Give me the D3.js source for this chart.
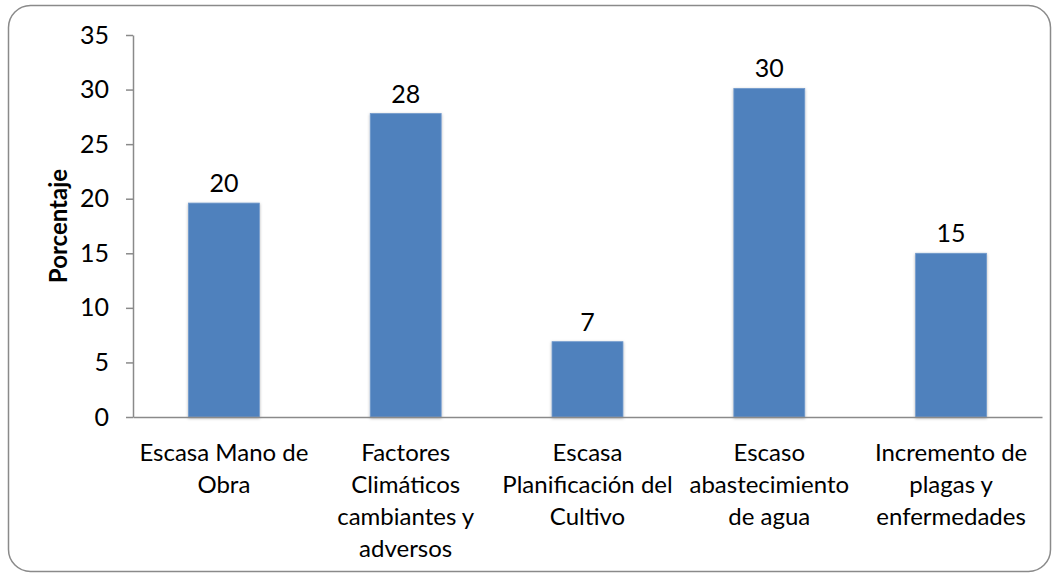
<!DOCTYPE html>
<html>
<head>
<meta charset="utf-8">
<script src="https://cdn.jsdelivr.net/npm/d3@7"></script>
<style>
  html, body { margin: 0; padding: 0; background: #fff; }
  svg { display: block; font-family: Lato, "Open Sans", sans-serif; }
</style>
</head>
<body>
<svg id="chart" width="1059" height="575"></svg>
<script>
const categories = [
  "Escasa Mano de|Obra",
  "Factores|Climáticos|cambiantes y|adversos",
  "Escasa|Planificación del|Cultivo",
  "Escaso|abastecimiento|de agua",
  "Incremento de|plagas y|enfermedades"
];
const values = [19.6, 27.8, 6.9, 30.1, 15.0];
const valueLabels = ["20", "28", "7", "30", "15"];
const yTicks = [0, 5, 10, 15, 20, 25, 30, 35];
const yTitle = "Porcentaje";

const svg = d3.select("#chart");
const FS = 24;

// outer rounded border
svg.append("rect")
  .attr("x", 8.5).attr("y", 5.5)
  .attr("width", 1042).attr("height", 566)
  .attr("rx", 22).attr("ry", 22)
  .attr("fill", "#fff")
  .attr("stroke", "#8a8a8a")
  .attr("stroke-width", 1.5);

const defs = svg.append("defs");
const f = defs.append("filter").attr("id", "shadow")
  .attr("x", "-20%").attr("y", "-10%").attr("width", "140%").attr("height", "120%");
f.append("feDropShadow").attr("dx", 0).attr("dy", 1).attr("stdDeviation", 1.8)
  .attr("flood-color", "#000").attr("flood-opacity", 0.3);

const mLeft = 133, mRight = 1042, mTop = 35, mBottom = 417;

const x = d3.scaleBand().domain(categories).range([mLeft, mRight]).paddingInner(0.61).paddingOuter(0.305);
const y = d3.scaleLinear().domain([0, 35]).range([mBottom, mTop]);

// bars
svg.append("g").selectAll("rect").data(values).join("rect")
  .attr("x", (d, i) => x(categories[i]))
  .attr("y", d => y(d))
  .attr("width", x.bandwidth())
  .attr("height", d => y(0) - y(d))
  .attr("fill", "#4F81BD")
  .attr("stroke", "#7199cc")
  .attr("stroke-width", 0.8)
  .attr("filter", "url(#shadow)");

// y axis
const yAxis = d3.axisLeft(y).tickValues(yTicks).tickSize(7).tickPadding(17).tickSizeOuter(0);
const gy = svg.append("g").attr("transform", `translate(${mLeft},0)`).call(yAxis);
gy.select(".domain").attr("stroke", "#8a8a8a").attr("stroke-width", 1.5);
gy.selectAll(".tick line").attr("stroke", "#8a8a8a").attr("stroke-width", 1.5);
gy.selectAll(".tick text").attr("font-size", FS + 1).attr("fill", "#000")
  .attr("font-family", "Lato, 'Open Sans', sans-serif");

// x axis line
const xAxis = d3.axisBottom(x).tickSize(0).tickFormat("");
const gx = svg.append("g").attr("transform", `translate(0,${mBottom})`).call(xAxis);
gx.select(".domain").attr("stroke", "#8a8a8a").attr("stroke-width", 1.5);

// category labels
categories.forEach((c, i) => {
  const t = svg.append("text")
    .attr("text-anchor", "middle")
    .attr("font-size", FS)
    .attr("fill", "#000");
  c.split("|").forEach((line, j) => {
    t.append("tspan")
      .attr("x", x(c) + x.bandwidth() / 2)
      .attr("y", 461 + j * 32)
      .text(line);
  });
});

// value labels
svg.append("g").selectAll("text").data(values).join("text")
  .attr("x", (d, i) => x(categories[i]) + x.bandwidth() / 2)
  .attr("y", d => y(d) - 11)
  .attr("text-anchor", "middle")
  .attr("font-size", FS + 1)
  .attr("fill", "#000")
  .text((d, i) => valueLabels[i]);

// y title
svg.append("text")
  .attr("transform", `translate(67,${(mTop + mBottom) / 2}) rotate(-90)`)
  .attr("text-anchor", "middle")
  .attr("font-size", 24)
  .attr("font-weight", "bold")
  .attr("fill", "#000")
  .text(yTitle);
</script>
</body>
</html>
